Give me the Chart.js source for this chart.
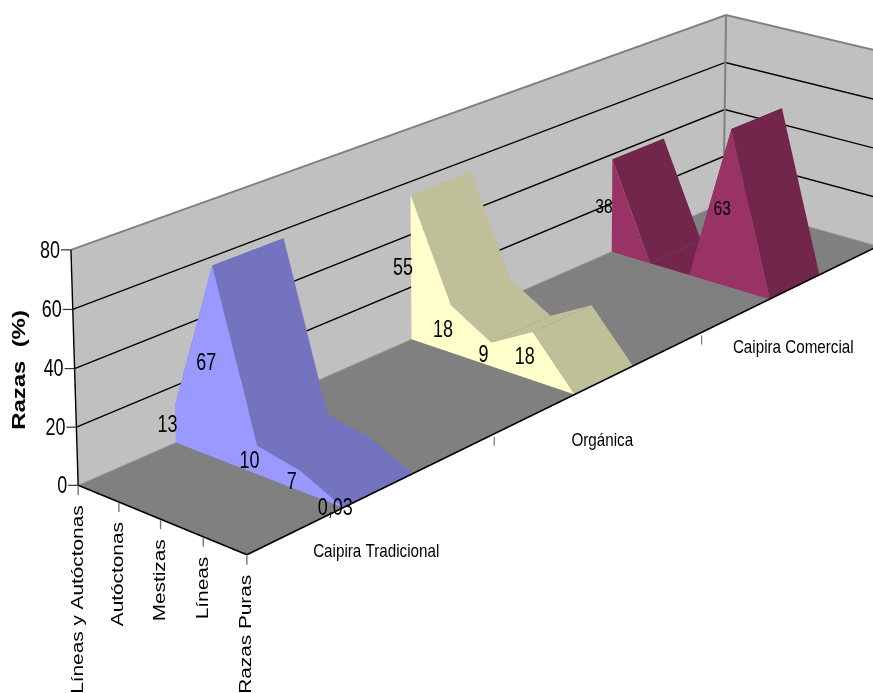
<!DOCTYPE html>
<html>
<head>
<meta charset="utf-8">
<title>Razas</title>
<script src="https://cdn.jsdelivr.net/npm/chart.js@4"></script>
<style>
    html, body { margin: 0; padding: 0; background: #fff; overflow: hidden; }
    canvas { display: block; }
</style>
</head>
<body>
<canvas id="razasChart" width="873" height="693"></canvas>
<script>
const categories = ['Líneas y Autóctonas', 'Autóctonas', 'Mestizas', 'Líneas', 'Razas Puras'];
const seriesNames = ['Caipira Tradicional', 'Orgánica', 'Caipira Comercial'];
const tradicional = [13, 67, 10, 7, 0.03];
const organica = [55, 18, 9, 18, 0];
const comercial = [38, 0, 0, 63, 0];
const valueTicks = [0, 20, 40, 60, 80];

const seriesValues = [tradicional, organica, comercial];
const frontColors = ['#9999FF', '#FFFFCC', '#993366'];
const topColors = ['#7373BF', '#BFBF99', '#73264C'];
const plainFont = '"Liberation Sans", Arial, sans-serif';
const valueMax = 80;
const slabDepth = 0.094; // each series takes this share of the floor depth
const slabShift = 0.003;

// box corners on the page: [category, depth, height, pageX, pageY]
const boxCorners = [
    [0, 0, 0, 78, 485],
    [1, 0, 0, 247, 555],
    [0, 1, 0, 723.5, 203],
    [1, 1, 0, 878, 246],
    [0, 0, 1, 71, 250],
    [0, 1, 1, 726, 15]
];

// small gaussian elimination, used for the projection below
function solve(A, b) {
    const n = b.length;
    const m = A.map((row, i) => [...row, b[i]]);
    for (let i = 0; i < n; i++) {
        let p = i;
        for (let r = i + 1; r < n; r++) {
            if (Math.abs(m[r][i]) > Math.abs(m[p][i])) p = r;
        }
        [m[i], m[p]] = [m[p], m[i]];
        for (let r = 0; r < n; r++) {
            if (r === i) continue;
            const f = m[r][i] / m[i][i];
            for (let c = i; c <= n; c++) m[r][c] -= f * m[i][c];
        }
    }
    return m.map((row, i) => row[n] / row[i]);
}

// least squares fit of the perspective matrix from the box corners
function fitProjection() {
    const rows = [];
    const rhs = [];
    boxCorners.forEach(([u, w, h, px, py]) => {
        rows.push([u, w, h, 1, 0, 0, 0, 0, -px * u, -px * w, -px * h]);
        rhs.push(px);
        rows.push([0, 0, 0, 0, u, w, h, 1, -py * u, -py * w, -py * h]);
        rhs.push(py);
    });
    const size = 11;
    const AtA = [];
    const Atb = [];
    for (let i = 0; i < size; i++) {
        AtA.push([]);
        for (let j = 0; j < size; j++) {
            AtA[i].push(rows.reduce((sum, r) => sum + r[i] * r[j], 0));
        }
        Atb.push(rows.reduce((sum, r, k) => sum + r[i] * rhs[k], 0));
    }
    return solve(AtA, Atb);
}

const M = fitProjection();

// category index, floor depth 0-1, value -> page position
function project(cat, depth, value) {
    const u = cat / (categories.length - 1);
    const h = value / valueMax;
    const d = M[8] * u + M[9] * depth + M[10] * h + 1;
    return {
        x: (M[0] * u + M[1] * depth + M[2] * h + M[3]) / d,
        y: (M[4] * u + M[5] * depth + M[6] * h + M[7]) / d
    };
}

function slabFront(s) {
    return (s + 0.5) / seriesValues.length + slabShift - slabDepth / 2;
}

const lastCat = categories.length - 1;
const layers = [];

function addPolygon(points, color) {
    layers.push({
        data: points,
        showLine: true,
        pointRadius: 0,
        borderColor: 'transparent',
        borderWidth: 0,
        backgroundColor: color,
        fill: 'shape'
    });
}

function addLine(points, color, width) {
    layers.push({
        data: points,
        showLine: true,
        pointRadius: 0,
        borderColor: color,
        borderWidth: width,
        fill: false
    });
}

// walls and floor
addPolygon([project(0, 0, 0), project(0, 1, 0), project(0, 1, valueMax), project(0, 0, valueMax)], '#C0C0C0');
addPolygon([project(0, 1, 0), project(lastCat, 1, 0), project(lastCat, 1, valueMax), project(0, 1, valueMax)], '#C0C0C0');
addPolygon([project(0, 0, 0), project(lastCat, 0, 0), project(lastCat, 1, 0), project(0, 1, 0)], '#808080');

valueTicks.slice(1, -1).forEach(v => {
    addLine([project(0, 0, v), project(0, 1, v), project(lastCat, 1, v)], '#000000', 1.4);
});
addLine([project(0, 0, valueMax), project(0, 1, valueMax), project(lastCat, 1, valueMax)], '#808080', 2);
addLine([project(0, 1, 0), project(0, 1, valueMax)], '#808080', 2);
addLine([project(0, 0, 0), project(0, 1, 0)], '#999999', 1);
addLine([project(0, 1, 0), project(lastCat, 1, 0)], '#999999', 1);

// series slabs, farthest first
[2, 1, 0].forEach(s => {
    const values = seriesValues[s];
    const front = slabFront(s);
    const back = front + slabDepth;
    for (let i = 0; i < lastCat; i++) {
        addPolygon([
            project(i, front, values[i]),
            project(i + 1, front, values[i + 1]),
            project(i + 1, back, values[i + 1]),
            project(i, back, values[i])
        ], topColors[s]);
    }
    const outline = values.map((v, i) => project(i, front, v));
    addPolygon([project(0, front, 0), ...outline, project(lastCat, front, 0)], frontColors[s]);
});

// axis lines
addLine([project(0, 0, 0), project(0, 0, valueMax)], '#000000', 1.4);
addLine([project(0, 0, 0), project(lastCat, 0, 0)], '#000000', 1.6);
addLine([project(lastCat, 0, 0), project(lastCat, 1, 0)], '#000000', 1.6);

// tick marks
valueTicks.forEach(v => {
    const p = project(0, 0, v);
    addLine([{ x: p.x - 10, y: p.y }, p], '#333333', 1.2);
});
categories.forEach((c, i) => {
    const p = project(i, 0, 0);
    addLine([{ x: p.x, y: p.y + 1 }, { x: p.x, y: p.y + 10 }], '#777777', 1.4);
});
[1 / 3, 2 / 3].forEach(t => {
    const p = project(lastCat, t, 0);
    addLine([{ x: p.x, y: p.y + 3 }, { x: p.x, y: p.y + 12 }], '#777777', 1.2);
});

layers.forEach((layer, i) => { layer.order = -i; });

// squeezed or stretched text along its reading direction
function putText(ctx, text, x, y, font, stretch, align, angle) {
    ctx.save();
    ctx.translate(x, y);
    if (angle) ctx.rotate(angle);
    ctx.scale(stretch, 1);
    ctx.font = font;
    ctx.fillStyle = '#000000';
    ctx.textAlign = align;
    ctx.textBaseline = 'middle';
    ctx.fillText(text, 0, 0);
    ctx.restore();
}

const textPlugin = {
    id: 'chartText',
    afterDraw(chart) {
        const ctx = chart.ctx;
        const sx = chart.scales.x;
        const sy = chart.scales.y;
        const at = p => ({ x: sx.getPixelForValue(p.x), y: sy.getPixelForValue(p.y) });

        valueTicks.forEach(v => {
            const p = at(project(0, 0, v));
            putText(ctx, String(v), p.x - 11, p.y + 1.5, '23px ' + plainFont, 0.78, 'right');
        });

        categories.forEach((c, i) => {
            const p = at(project(i, 0, 0));
            putText(ctx, c, p.x, p.y + 20, '16px ' + plainFont, 1.3, 'right', -Math.PI / 2);
        });

        seriesNames.forEach((name, s) => {
            const p = at(project(lastCat, (s + 0.5) / seriesNames.length, 0));
            putText(ctx, name, p.x, p.y + 60, '19px ' + plainFont, 0.8, 'center');
        });

        putText(ctx, 'Razas  (%)', 20, 370, 'bold 18px ' + plainFont, 1.33, 'center', -Math.PI / 2);

        // value labels sit half way up each column of the front face
        seriesValues.forEach((values, s) => {
            values.forEach((v, i) => {
                if (v === 0) return;
                const p = at(project(i, slabFront(s), v / 2));
                const size = s === 2 ? 20 : 23;
                putText(ctx, String(v).replace('.', ','), p.x - 8, p.y + 1.5, size + 'px ' + plainFont, 0.78, 'center');
            });
        });
    }
};

new Chart(document.getElementById('razasChart'), {
    type: 'scatter',
    data: { datasets: layers },
    options: {
        responsive: false,
        animation: false,
        layout: { padding: 0 },
        scales: {
            x: { type: 'linear', min: 0, max: 873, display: false },
            y: { type: 'linear', min: 0, max: 693, reverse: true, display: false }
        },
        plugins: {
            legend: { display: false },
            tooltip: { enabled: false }
        }
    },
    plugins: [textPlugin]
});
</script>
</body>
</html>
